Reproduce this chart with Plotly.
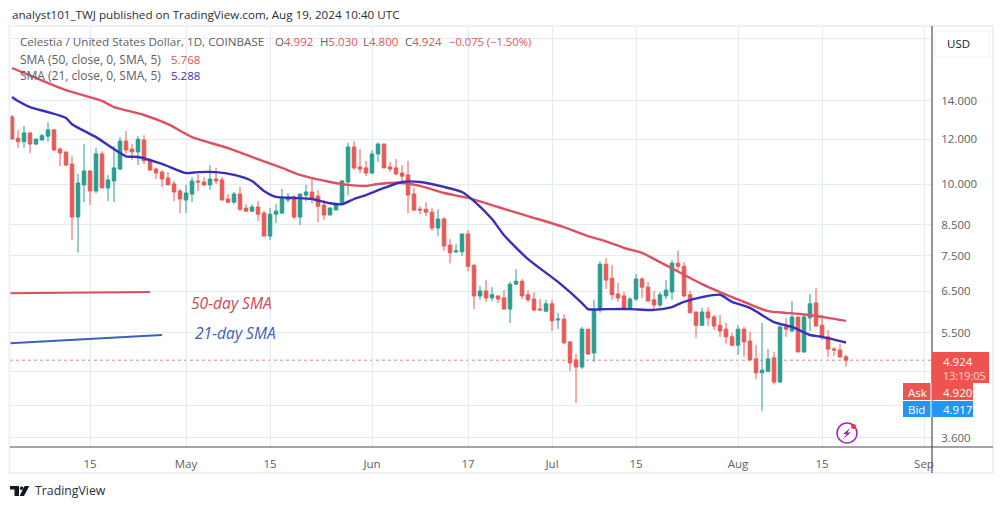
import math
import pandas as pd
import plotly.graph_objects as go

first_day = "2024-04-02"
opens = [13.13,12.05,11.88,12.31,11.77,11.96,12.15,12.46,11.53,11.40,
 10.86,8.77,9.98,10.56,9.74,11.31,9.86,10.14,10.64,11.91,
 11.53,11.40,11.96,11.04,10.64,10.51,10.26,10.02,9.74,
 9.39,9.62,10.14,10.10,9.98,10.22,10.18,9.43,9.31,9.62,
 9.09,8.98,9.13,8.91,8.12,8.87,8.91,9.39,9.51,8.77,
 9.58,9.70,9.54,9.20,8.84,9.02,9.27,10.10,11.63,10.73,10.69,
 10.47,11.31,11.77,10.73,10.69,10.47,10.39,9.62,9.05,9.05,
 8.94,8.39,8.70,7.83,7.62,7.62,8.19,7.22,6.38,6.51,
 6.33,6.38,6.33,6.05,6.69,6.77,6.41,6.30,6.05,6.00,
 6.18,5.79,5.81,5.30,4.93,4.79,5.58,5.07,6.03,7.25,
 6.85,6.43,6.38,6.05,6.30,6.83,6.61,6.28,6.15,6.38,
 6.48,7.28,7.19,6.41,5.98,5.67,5.98,5.86,5.67,5.58,5.41,
 5.23,5.58,5.32,4.95,4.68,4.71,4.97,4.51,5.63,5.54,
 5.86,5.09,5.84,6.20,5.67,5.41,5.15,5.13,4.992]
highs = [13.23,12.46,12.66,12.31,12.05,12.26,12.85,12.51,11.61,11.40,
 11.20,10.43,11.77,10.56,11.58,11.44,10.39,11.67,12.10,12.41,
 11.77,12.15,12.20,11.13,10.69,10.60,10.51,10.14,9.82,
 9.98,10.30,10.43,10.30,10.81,10.69,10.30,9.62,9.70,9.90,
 9.23,9.23,9.35,8.98,9.09,9.23,9.82,9.66,9.58,9.62,
 9.98,10.26,9.78,9.39,9.13,9.27,10.18,11.83,11.91,11.53,11.00,
 11.49,11.83,11.77,10.95,11.08,10.81,11.00,9.86,9.16,9.31,
 9.09,9.05,8.77,8.02,7.86,8.19,8.32,7.25,6.64,6.80,
 6.61,6.38,6.53,6.75,7.11,6.83,6.53,6.48,6.30,6.28,
 6.28,5.96,5.93,5.32,5.05,5.63,5.58,6.28,7.34,7.43,
 7.22,6.72,6.48,6.35,6.97,6.88,6.75,6.51,6.48,6.80,
 7.37,7.65,7.31,6.51,5.98,6.08,6.10,5.91,5.91,5.72,5.49,
 5.67,5.63,5.52,5.23,5.72,5.15,5.09,5.70,5.84,6.25,
 5.86,5.91,6.43,6.58,5.91,5.56,5.19,5.26,5.03]
lows = [12.00,11.59,11.59,11.35,11.72,11.96,11.88,11.44,10.77,10.77,
 7.99,7.60,9.31,9.20,9.64,9.86,9.35,9.31,10.60,11.31,
 11.04,10.81,10.86,10.56,10.22,9.90,9.98,9.35,8.91,
 8.91,9.31,9.74,9.94,9.78,10.02,9.39,9.27,9.23,8.98,
 8.98,8.94,8.63,8.12,7.99,8.56,8.87,9.31,8.70,8.49,
 9.35,9.27,8.59,8.66,8.84,9.02,9.20,9.58,10.60,10.47,10.34,
 10.43,10.95,10.69,10.51,10.39,10.14,8.91,8.98,8.87,8.80,
 8.29,8.12,7.65,7.28,7.59,7.49,7.05,6.05,6.28,6.23,
 6.25,6.20,6.03,5.72,6.67,6.30,6.23,6.00,6.00,5.98,
 5.54,5.58,5.26,4.71,4.14,4.75,5.03,4.89,5.96,6.56,
 6.28,6.23,6.03,6.03,6.25,6.33,6.25,6.00,6.10,6.30,
 6.28,7.08,6.35,5.96,5.39,5.65,5.65,5.56,5.41,5.26,5.21,
 5.03,4.99,4.91,4.56,4.01,4.69,4.46,4.49,5.41,5.52,
 5.09,5.07,5.54,5.65,5.34,4.99,5.01,4.97,4.80]
closes = [12.01,11.88,12.31,11.77,12.00,12.17,12.46,11.49,11.35,10.81,
 8.77,10.06,10.56,9.74,11.31,9.86,10.18,10.69,11.91,11.49,
 11.40,12.00,11.00,10.60,10.47,10.22,9.98,9.70,9.43,
 9.66,10.14,10.10,9.98,10.22,10.14,9.39,9.31,9.62,9.05,
 8.98,9.13,8.87,8.12,8.87,8.98,9.47,9.51,8.77,9.62,
 9.70,9.47,9.16,8.84,9.09,9.23,10.14,11.63,10.69,10.64,10.47,
 11.31,11.77,10.69,10.64,10.43,10.34,9.58,9.02,9.02,8.94,
 8.39,8.70,7.80,7.59,7.65,8.19,7.19,6.38,6.51,6.33,
 6.41,6.30,6.05,6.69,6.77,6.38,6.28,6.03,6.03,6.18,
 5.77,5.81,5.28,4.87,4.79,5.58,5.05,6.03,7.25,6.80,
 6.41,6.33,6.05,6.30,6.83,6.61,6.25,6.15,6.41,6.53,
 7.28,7.19,6.38,5.96,5.67,5.98,5.84,5.65,5.54,5.41,5.23,
 5.58,5.30,4.93,4.68,4.73,4.95,4.51,5.63,5.58,5.86,
 5.09,5.86,6.18,5.65,5.39,5.15,5.13,4.99,4.924]

sma50_dates = ["2024-04-02","2024-04-06","2024-04-11","2024-04-17","2024-04-19","2024-04-24","2024-04-28",
 "2024-05-02","2024-05-05","2024-05-08","2024-05-12","2024-05-17","2024-05-20","2024-05-25","2024-05-28","2024-05-31",
 "2024-06-02","2024-06-06","2024-06-09","2024-06-13","2024-06-17","2024-06-22","2024-06-27",
 "2024-07-03","2024-07-07","2024-07-10","2024-07-13","2024-07-16","2024-07-19","2024-07-22","2024-07-26","2024-07-29",
 "2024-08-02","2024-08-06","2024-08-09","2024-08-12","2024-08-16","2024-08-19"]
sma50_vals = [15.99,15.36,14.63,14.0,13.66,13.23,12.75,
 12.10,11.83,11.58,11.17,10.69,10.39,10.10,9.98,9.94,
 10.02,10.06,9.94,9.66,9.47,9.13,8.80,
 8.42,8.12,7.95,7.74,7.59,7.31,7.04,6.69,6.48,
 6.23,6.00,5.96,5.92,5.84,5.768]

sma21_dates = ["2024-04-02","2024-04-03","2024-04-05","2024-04-08","2024-04-11","2024-04-12","2024-04-16","2024-04-19","2024-04-21","2024-04-23","2024-04-27",
 "2024-05-01","2024-05-03","2024-05-06","2024-05-09","2024-05-12","2024-05-14","2024-05-16","2024-05-19","2024-05-22","2024-05-25","2024-05-27","2024-05-29","2024-05-31",
 "2024-06-03","2024-06-06","2024-06-09","2024-06-13","2024-06-16","2024-06-18","2024-06-21","2024-06-23","2024-06-27",
 "2024-07-02","2024-07-06","2024-07-07","2024-07-10","2024-07-14","2024-07-18","2024-07-21","2024-07-23","2024-07-26","2024-07-29","2024-07-31",
 "2024-08-03","2024-08-07","2024-08-10","2024-08-13","2024-08-15","2024-08-19"]
sma21_vals = [14.23,14.0,13.66,13.38,13.07,12.75,12.10,11.53,11.20,11.17,10.86,
 10.47,10.51,10.51,10.39,10.14,9.74,9.51,9.47,9.43,9.27,9.23,9.43,9.58,
 9.86,10.10,10.10,9.90,9.70,9.35,8.70,8.15,7.40,
 6.75,6.20,6.05,6.05,6.05,6.03,6.10,6.23,6.35,6.41,6.23,
 6.08,5.74,5.63,5.45,5.41,5.288]

drawn50_dates = ["2024-04-01 16:00","2024-04-25"]
drawn50_vals = [6.45,6.48]
drawn21_dates = ["2024-04-01 16:00","2024-04-27"]
drawn21_vals = [5.27,5.45]

price_tick_vals = [18,14,12,10,8.5,7.5,6.5,5.5,4.7,4.1,3.6]
price_tick_text = ["","14.000","12.000","10.000","8.500","7.500","6.500","5.500","","","3.600"]
date_tick_vals = ["2024-04-15","2024-05-01","2024-05-15","2024-06-01","2024-06-17","2024-07-01","2024-07-15","2024-08-01","2024-08-15","2024-09-01"]
date_tick_text = ["15","May","15","Jun","17","Jul","15","Aug","15","Sep"]
last_price = 4.924

FONT = "Open Sans"
GREY = "#5d6066"
UP = "#2a9d90"
DOWN = "#e85a56"

L, R, T, B = 10, 932, 26, 447
def px(v): return (v - L) / (R - L)
def py(v): return (B - v) / (B - T)

dates = pd.date_range(first_day, periods=len(opens))
fig = go.Figure()
fig.add_trace(go.Scatter(x=drawn50_dates, y=drawn50_vals, mode="lines", line=dict(color="#d8505c", width=2)))
fig.add_trace(go.Scatter(x=drawn21_dates, y=drawn21_vals, mode="lines", line=dict(color="#3a62bd", width=2)))
fig.add_trace(go.Candlestick(x=dates, open=opens, high=highs, low=lows, close=closes, whiskerwidth=0,
    increasing=dict(line=dict(color=UP, width=1), fillcolor=UP),
    decreasing=dict(line=dict(color=DOWN, width=1), fillcolor=DOWN)))
fig.add_trace(go.Scatter(x=sma50_dates, y=sma50_vals, mode="lines",
                         line=dict(color="#dd5060", width=2.4, shape="spline", smoothing=0.6)))
fig.add_trace(go.Scatter(x=sma21_dates, y=sma21_vals, mode="lines",
                         line=dict(color="#3a30b8", width=2.4, shape="spline", smoothing=0.6)))

shapes = []
def rect(x0, y0, x1, y1, fill, line="rgba(0,0,0,0)", w=0):
    shapes.append(dict(type="rect", xref="paper", yref="paper", x0=px(x0), x1=px(x1), y0=py(y0), y1=py(y1),
                       fillcolor=fill, line=dict(color=line, width=w), layer="above"))
def seg(x0, y0, x1, y1, color, w=1):
    shapes.append(dict(type="line", xref="paper", yref="paper", x0=px(x0), x1=px(x1), y0=py(y0), y1=py(y1),
                       line=dict(color=color, width=w), layer="above"))
def path(points, fill, line="rgba(0,0,0,0)", w=0):
    d = "M " + " L ".join(f"{px(a):.5f},{py(b):.5f}" for a, b in points) + " Z"
    shapes.append(dict(type="path", xref="paper", yref="paper", path=d, fillcolor=fill,
                       line=dict(color=line, width=w), layer="above"))

shapes.append(dict(type="line", xref="paper", yref="y", x0=0, x1=1, y0=last_price, y1=last_price,
                   line=dict(color="#c98a80", width=1, dash="dot"), layer="below"))
# outer frame and axis lines
rect(9.5, 26, 993, 473, "rgba(0,0,0,0)", "#eef0f3", 2)
seg(10, 447, 993, 447, "#4a4d52", 1.2)
seg(932, 26, 932, 473, "#4a4d52", 1.2)
# USD box
rect(935, 31, 989, 57, "#ffffff", "#f0f0f0", 1)
# price labels
rect(932, 352, 989, 383, "#ef5350")
rect(903, 383, 973, 400, "#ef5350")
rect(903, 401, 973, 417, "#2196f3")
seg(931, 383, 931, 417, "#ffffff", 1)
# flash icon
shapes.append(dict(type="circle", xref="paper", yref="paper", x0=px(837), x1=px(857), y0=py(443), y1=py(423),
                   line=dict(color="#9c27b0", width=1.5), fillcolor="#ffffff", layer="above"))
shapes.append(dict(type="circle", xref="paper", yref="paper", x0=px(851), x1=px(856), y0=py(429), y1=py(424),
                   fillcolor="#f23645", line=dict(color="#f23645", width=0), layer="above"))
path([(850, 428), (843, 434), (846.5, 434), (843, 439), (851, 432.5), (847.5, 432.5)], "#9c27b0")
# TradingView mark
path([(10, 486), (19, 486), (19, 496), (14.5, 496), (14.5, 489.5), (10, 489.5)], "#131722")
shapes.append(dict(type="circle", xref="paper", yref="paper", x0=px(19.8), x1=px(23.4), y0=py(490), y1=py(486.4),
                   fillcolor="#131722", line=dict(color="#131722", width=0), layer="above"))
path([(24.5, 486), (29.3, 486), (24, 496), (19.6, 496)], "#131722")

notes = []
def text(x, y, s, size=11.5, color=GREY, anchor="left", fam=FONT):
    notes.append(dict(xref="paper", yref="paper", x=px(x), y=py(y), text=s, showarrow=False, xanchor=anchor,
                      yanchor="middle", align=anchor, font=dict(family=fam, size=size, color=color)))
text(10, 15, "analyst101_TWJ published on TradingView.com, Aug 19, 2024 10:40 UTC", 11.65, "#2a2e39")
text(18, 41.5, "Celestia / United States Dollar, 1D, COINBASE", 11.65)
red = "#e0555a"
text(273, 41.5, f"O<span style='color:{red}'>4.992</span>", 11.5)
text(318, 41.5, f"H<span style='color:{red}'>5.030</span>", 11.5)
text(361, 41.5, f"L<span style='color:{red}'>4.800</span>", 11.5)
text(403, 41.5, f"C<span style='color:{red}'>4.924</span>", 11.5)
text(447, 41.5, f"<span style='color:{red}'>−0.075 (−1.50%)</span>", 11.2)
text(18, 59, "SMA (50, close, 0, SMA, 5)", 12)
text(169, 59, "5.768", 11.5, "#d8505c")
text(18, 76, "SMA (21, close, 0, SMA, 5)", 12)
text(169, 76, "5.288", 11.5, "#3a30b8")
text(189, 303, "<i>50-day SMA</i>", 15.6, "#c9485a")
text(193, 333, "<i>21-day SMA</i>", 15.6, "#3a5fb8")
text(945, 43, "USD", 11.5, "#131722")
text(941, 361, "4.924", 11.5, "#ffffff")
text(941, 375, "13:19:05", 10.8, "#fbd5d5")
text(906, 392, "Ask", 11.5, "#ffffff")
text(941, 392, "4.920", 11.5, "#ffffff")
text(906, 409, "Bid", 11.5, "#ffffff")
text(941, 409, "4.917", 11.5, "#ffffff")
text(33, 491, "TradingView", 12.3, "#2a2e39")

fig.update_layout(
    width=1003, height=509, showlegend=False, paper_bgcolor="#ffffff", plot_bgcolor="#ffffff",
    margin=dict(l=L, r=1003 - R, t=T, b=509 - B), boxgap=0.15, shapes=shapes, annotations=notes,
    font=dict(family=FONT, size=11.5, color=GREY), hovermode=False,
    xaxis=dict(type="date", range=["2024-04-01 16:00", "2024-09-02 08:00"], rangeslider=dict(visible=False),
               tickmode="array", tickvals=date_tick_vals, ticktext=date_tick_text, showgrid=True,
               gridcolor="#e4ecf2", gridwidth=1, zeroline=False, showline=False, ticks="outside", ticklen=6,
               tickcolor="rgba(0,0,0,0)", tickfont=dict(size=11.5, color=GREY, family=FONT)),
    yaxis=dict(type="log", side="right", range=[math.log10(3.47), math.log10(18.94)], tickmode="array",
               tickvals=price_tick_vals, ticktext=price_tick_text, showgrid=True, gridcolor="#e4ecf2", gridwidth=1,
               zeroline=False, showline=False, ticks="outside", ticklen=6, tickcolor="rgba(0,0,0,0)",
               tickfont=dict(size=11.5, color=GREY, family=FONT)),
)
fig.write_html("out.html", config=dict(displayModeBar=False),
               post_script="document.body.style.margin='0';")
